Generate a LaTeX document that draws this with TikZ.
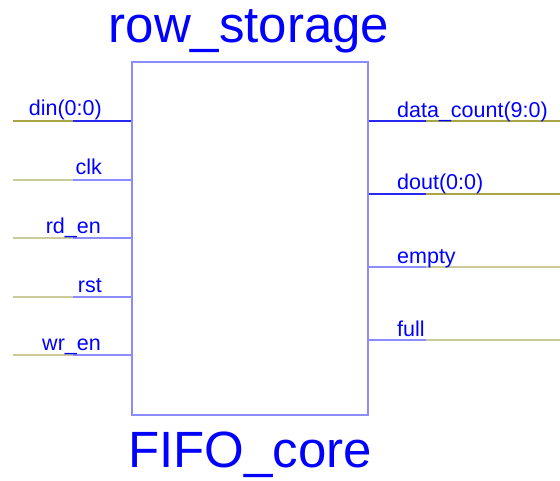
\documentclass[tikz,border=0pt]{standalone}
\usepackage{fontspec}
\setmainfont{Liberation Sans}
\usepackage{xcolor}
\usetikzlibrary{calc}
\definecolor{symblue}{HTML}{0000FF}
\definecolor{pinblue}{HTML}{8C8CFF}
\definecolor{busblue}{HTML}{2828F0}
\definecolor{netolive}{HTML}{CACA9A}
\definecolor{busolive}{HTML}{A8A448}

\begin{document}
\begin{tikzpicture}[
    x=1pt, y=-1pt,
    core/.style={rectangle, draw=pinblue, line width=1.2pt, minimum width=236pt,
        minimum height=353pt, inner sep=0pt},
    title/.style={font=\fontsize{51}{60}\selectfont, text=symblue, inner sep=0pt},
    pinlbl/.style={font=\fontsize{21.5}{25}\selectfont, text=symblue, inner sep=0pt},
    pin/.style={line width=1.2pt, pinblue},
    bus/.style={line width=2.6pt, busblue},
    net/.style={line width=1.2pt, netolive},
    busnet/.style={line width=2pt, busolive}
]
    \useasboundingbox (0,0) rectangle (560,480);

    % === symbol body ===
    \node[core] (fifo) at (250,238.5) {};
    \node[title, anchor=base] (inst) at (249,42) {row\_storage};
    \node[title, anchor=base] (cell) at (250,467) {FIFO\_core};

    % === inputs (left) ===
    \coordinate (din-in)  at (13,121);  \coordinate (din-j)  at (73,121);
    \coordinate (clk-in)  at (13,180);  \coordinate (clk-j)  at (73,180);
    \coordinate (rden-in) at (13,238);  \coordinate (rden-j) at (73,238);
    \coordinate (rst-in)  at (13,297);  \coordinate (rst-j)  at (73,297);
    \coordinate (wren-in) at (13,355);  \coordinate (wren-j) at (73,355);

    \draw[busnet] (din-in) -- (din-j);
    \draw[bus] (din-j) -- (din-j -| fifo.west);
    \draw[net] (clk-in) -- (clk-j);
    \draw[pin] (clk-j) -- (clk-j -| fifo.west);
    \draw[net] (rden-in) -- (rden-j);
    \draw[pin] (rden-j) -- (rden-j -| fifo.west);
    \draw[net] (rst-in) -- (rst-j);
    \draw[pin] (rst-j) -- (rst-j -| fifo.west);
    \draw[net] (wren-in) -- (wren-j);
    \draw[pin] (wren-j) -- (wren-j -| fifo.west);

    \node[pinlbl, anchor=base east] (din)  at (102,115) {din(0:0)};
    \node[pinlbl, anchor=base east] (clk)  at (102,174) {clk};
    \node[pinlbl, anchor=base east] (rden) at (101,233) {rd\_en};
    \node[pinlbl, anchor=base east] (rst)  at (102,292) {rst};
    \node[pinlbl, anchor=base east] (wren) at (101,350) {wr\_en};

    % === outputs (right) ===
    \coordinate (cnt-j)   at (426,121); \coordinate (cnt-out)   at (560,121);
    \coordinate (dout-j)  at (426,194); \coordinate (dout-out)  at (560,194);
    \coordinate (empty-j) at (426,267); \coordinate (empty-out) at (560,267);
    \coordinate (full-j)  at (426,340); \coordinate (full-out)  at (560,340);

    \draw[bus] (cnt-j -| fifo.east) -- (cnt-j);
    \draw[busnet] (cnt-j) -- (cnt-out);
    \draw[bus] (dout-j -| fifo.east) -- (dout-j);
    \draw[busnet] (dout-j) -- (dout-out);
    \draw[pin] (empty-j -| fifo.east) -- (empty-j);
    \draw[net] (empty-j) -- (empty-out);
    \draw[pin] (full-j -| fifo.east) -- (full-j);
    \draw[net] (full-j) -- (full-out);

    \node[pinlbl, anchor=base west] (cnt)   at (397,117) {data\_count(9:0)};
    \node[pinlbl, anchor=base west] (dout)  at (397,189) {dout(0:0)};
    \node[pinlbl, anchor=base west] (empty) at (397,263) {empty};
    \node[pinlbl, anchor=base west] (full)  at (397,336) {full};
\end{tikzpicture}
\end{document}
